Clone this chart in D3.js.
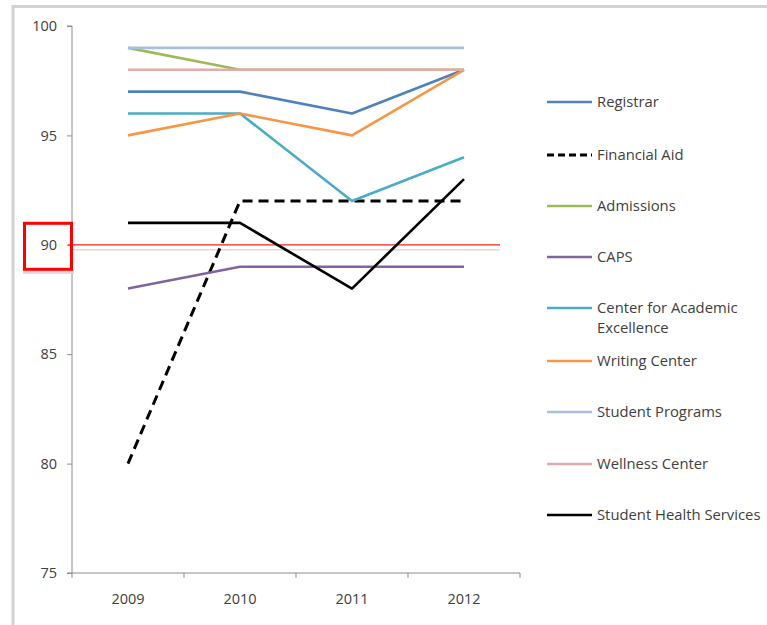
<!DOCTYPE html>
<html>
<head>
<meta charset="utf-8">
<script src="https://cdn.jsdelivr.net/npm/d3@7"></script>
<style>
  html, body { margin: 0; padding: 0; background: #fff; }
  svg { display: block; }
  text { font-family: "Open Sans", "Noto Sans", sans-serif; }
</style>
</head>
<body>
<svg id="chart" width="767" height="625"></svg>
<script>
// Satisfaction scores by year for each service office
const years = ["2009", "2010", "2011", "2012"];
const yTicks = [75, 80, 85, 90, 95, 100];

const registrar        = [97, 97, 96, 98];
const financialAid     = [80, 92, 92, 92];
const admissions       = [99, 98, 98, 98];
const caps             = [88, 89, 89, 89];
const academicCenter   = [96, 96, 92, 94];
const writingCenter    = [95, 96, 95, 98];
const studentPrograms  = [99, 99, 99, 99];
const wellnessCenter   = [98, 98, 98, 98];
const healthServices   = [91, 91, 88, 93];

const seriesNames = [
  "Registrar", "Financial Aid", "Admissions", "CAPS",
  "Center for Academic Excellence", "Writing Center",
  "Student Programs", "Wellness Center", "Student Health Services"
];
const seriesValues = [
  registrar, financialAid, admissions, caps, academicCenter,
  writingCenter, studentPrograms, wellnessCenter, healthServices
];
const seriesColors = [
  "#4f81bd", "#000000", "#9bbb59", "#8064a2", "#4bacc6",
  "#f79646", "#a7c0de", "#e3aaaa", "#000000"
];
const seriesDashed = [false, true, false, false, false, false, false, false, false];
const targetScore = 90;

const svg = d3.select("#chart");

// outer frame
svg.append("path")
  .attr("d", "M13,625 V6.5 H767")
  .attr("fill", "none")
  .attr("stroke", "#d2d2d2")
  .attr("stroke-width", 3);

const plot = { left: 72, right: 520, top: 26, bottom: 573 };

const x = d3.scaleBand().domain(years).range([plot.left, plot.right]);
const y = d3.scaleLinear().domain([75, 100]).range([plot.bottom, plot.top]);

// y axis
const yAxis = svg.append("g")
  .attr("transform", `translate(${plot.left},0)`)
  .call(d3.axisLeft(y).tickValues(yTicks).tickSize(5).tickPadding(10).tickFormat(d3.format("d")));
yAxis.select(".domain").attr("stroke", "#8c8c8c").attr("d", `M-5,${plot.top}H0V${plot.bottom}H-5`);
yAxis.selectAll(".tick line").attr("stroke", "#8c8c8c");
yAxis.selectAll(".tick text")
  .attr("fill", "#404040").style("font-size", "14.5px")
  .style("font-family", "'Open Sans', sans-serif");

// x axis with ticks on band boundaries
const xAxis = svg.append("g")
  .attr("transform", `translate(0,${plot.bottom})`)
  .call(d3.axisBottom(x).tickSize(0).tickPadding(21));
xAxis.select(".domain").attr("stroke", "#8c8c8c").attr("d", `M${plot.left},0H${plot.right}`);
xAxis.selectAll(".tick text")
  .attr("fill", "#404040").style("font-size", "14.5px")
  .style("font-family", "'Open Sans', sans-serif");
const bounds = years.map(d => x(d)).concat([x(years[years.length - 1]) + x.bandwidth()]);
xAxis.selectAll("line.bound").data(bounds).enter().append("line")
  .attr("class", "bound")
  .attr("x1", d => d).attr("x2", d => d)
  .attr("y1", 0).attr("y2", 5)
  .attr("stroke", "#8c8c8c");

// target line at 90 with faint shadow
svg.append("line")
  .attr("x1", plot.left).attr("x2", 500)
  .attr("y1", y(targetScore) + 5).attr("y2", y(targetScore) + 5)
  .attr("stroke", "#dcdcdc").attr("stroke-width", 1.5);
svg.append("line")
  .attr("x1", plot.left - 4).attr("x2", 500)
  .attr("y1", y(targetScore)).attr("y2", y(targetScore))
  .attr("stroke", "#ff2020").attr("stroke-width", 1.2);

// highlight box around the 90 label
svg.append("rect")
  .attr("x", 23).attr("y", y(targetScore) + 25)
  .attr("width", 51).attr("height", 4)
  .attr("fill", "#d8d8d8");
svg.append("rect")
  .attr("x", 24.5).attr("y", y(targetScore) - 21.5)
  .attr("width", 47).attr("height", 46)
  .attr("fill", "none")
  .attr("stroke", "#ff0000")
  .attr("stroke-width", 3);

// series lines
const line = d3.line()
  .x((d, i) => x(years[i]) + x.bandwidth() / 2)
  .y(d => y(d));

seriesValues.forEach((vals, i) => {
  svg.append("path")
    .datum(vals)
    .attr("d", line)
    .attr("fill", "none")
    .attr("stroke", seriesColors[i])
    .attr("stroke-width", seriesDashed[i] ? 3 : 2.6)
    .attr("stroke-dasharray", seriesDashed[i] ? "10,6" : null)
    .attr("stroke-linejoin", "round");
});

// legend
const legendRows = [102, 155, 206, 257, 308, 361, 412, 464, 515];
const legend = svg.append("g");
seriesNames.forEach((name, i) => {
  const g = legend.append("g").attr("transform", `translate(547,${legendRows[i]})`);
  g.append("line")
    .attr("x1", 0).attr("x2", 45)
    .attr("stroke", seriesColors[i])
    .attr("stroke-width", seriesDashed[i] ? 3 : 2.6)
    .attr("stroke-dasharray", seriesDashed[i] ? "7,4" : null);
  const t = g.append("text")
    .attr("x", 50).attr("y", 0)
    .attr("dy", "0.35em")
    .attr("fill", "#404040")
    .style("font-size", "14.8px");
  if (name === "Center for Academic Excellence") {
    t.append("tspan").attr("x", 50).text("Center for Academic");
    t.append("tspan").attr("x", 50).attr("dy", "1.35em").text("Excellence");
  } else {
    t.text(name);
  }
});
</script>
</body>
</html>
